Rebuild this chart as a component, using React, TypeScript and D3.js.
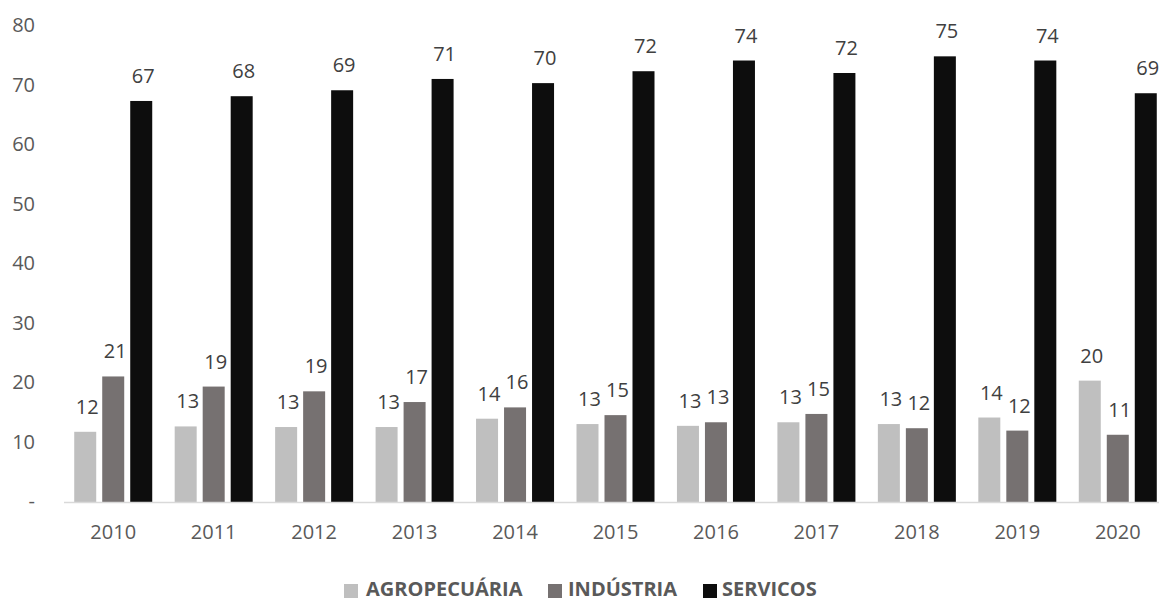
import React from "react";
import * as d3 from "d3";

const years = ["2010", "2011", "2012", "2013", "2014", "2015", "2016", "2017", "2018", "2019", "2020"];
const seriesNames = ["AGROPECUÁRIA", "INDÚSTRIA", "SERVICOS"];
const agro = [11.8, 12.7, 12.6, 12.6, 14.0, 13.1, 12.8, 13.4, 13.1, 14.2, 20.4];
const industria = [21.1, 19.4, 18.6, 16.8, 15.9, 14.6, 13.4, 14.8, 12.4, 12.0, 11.3];
const servicos = [67.4, 68.2, 69.2, 71.1, 70.4, 72.4, 74.2, 72.1, 74.9, 74.2, 68.7];
const yTicks = [0, 10, 20, 30, 40, 50, 60, 70, 80];
const colors = ["#bfbfbf", "#767171", "#0d0d0d"];

const W = 1159;
const H = 602;
const FONT = "'Open Sans', 'Noto Sans', sans-serif";

export default function App() {
  const values = [agro, industria, servicos];
  const x = d3.scaleBand<string>().domain(years).range([63, 1168]).padding(0);
  const inner = d3
    .scaleBand<string>()
    .domain(seriesNames)
    .range([-42, 42])
    .paddingInner(6 / 28)
    .paddingOuter(3 / 28);
  const y = d3.scaleLinear().domain([0, 80]).range([502, 26]);

  const legendItems = [
    { x: 344, textX: 366 },
    { x: 548, textX: 568 },
    { x: 703, textX: 722 },
  ];

  return (
    <svg
      width={W}
      height={H}
      style={{ position: "absolute", left: 0, top: 0, background: "#fff", overflow: "hidden" }}
      fontFamily={FONT}
    >
      <rect x={0} y={0} width={W} height={H} fill="#fff" />
      {yTicks.map((t) => (
        <text
          key={t}
          x={35}
          y={y(t) - 1}
          dy="0.35em"
          textAnchor="end"
          fontSize={20}
          fill="#595959"
        >
          {t === 0 ? "-" : String(t)}
        </text>
      ))}
      {years.map((yr, i) => {
        const cx = (x(yr) as number) + x.bandwidth() / 2;
        return (
          <g key={yr}>
            {seriesNames.map((s, si) => {
              const v = values[si][i];
              const bx = cx + (inner(s) as number);
              return (
                <rect
                  key={s}
                  x={bx}
                  y={y(v)}
                  width={inner.bandwidth()}
                  height={y(0) - y(v)}
                  fill={colors[si]}
                />
              );
            })}
            {seriesNames.map((s, si) => {
              const v = values[si][i];
              const bx = cx + (inner(s) as number) + inner.bandwidth() / 2 + 2;
              return (
                <text
                  key={s}
                  x={bx}
                  y={y(v) - 18}
                  textAnchor="middle"
                  fontSize={20}
                  fill="#404040"
                >
                  {Math.round(v)}
                </text>
              );
            })}
            <text x={cx} y={532} dy="0.35em" textAnchor="middle" fontSize={20} fill="#595959">
              {yr}
            </text>
          </g>
        );
      })}
      <line x1={64} x2={W} y1={y(0) + 0.5} y2={y(0) + 0.5} stroke="#d9d9d9" strokeWidth={1.5} />
      {seriesNames.map((s, si) => (
        <g key={s}>
          <rect x={legendItems[si].x} y={584} width={14} height={14} fill={colors[si]} />
          <text
            x={legendItems[si].textX}
            y={596}
            fontSize={20}
            fontWeight="bold"
            fill="#595959"
          >
            {s}
          </text>
        </g>
      ))}
    </svg>
  );
}
